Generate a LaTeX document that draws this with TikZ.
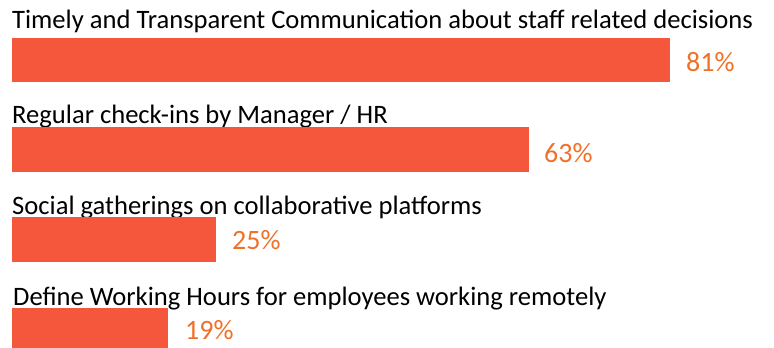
\documentclass[tikz,border=0pt]{standalone}
\usepackage{fontspec}
\setmainfont{Carlito}
\definecolor{barred}{RGB}{245,87,61}
\definecolor{pctorange}{RGB}{240,112,40}
\begin{document}
\begin{tikzpicture}[x=1pt,y=-1pt,
  bar/.style={fill=barred,draw=none,inner sep=0pt,anchor=north west,minimum height=44pt},
  lbl/.style={anchor=base west,inner sep=0pt,font=\fontsize{26.6}{30}\selectfont,text=black},
  pct/.style={anchor=base west,inner sep=0pt,font=\fontsize{28}{32}\selectfont,text=pctorange}]
\useasboundingbox (0,0) rectangle (774,348);
\node[lbl] (l1) at (12,28) {Timely and Transparent Communication about staff related decisions};
\node[bar,minimum width=658pt] (b1) at (12,38) {};
\node[pct] (p1) at (686,71) {81\%};
\node[lbl] (l2) at (12,123) {Regular check-ins by Manager / HR};
\node[bar,minimum width=517pt,minimum height=45pt] (b2) at (12,127) {};
\node[pct] (p2) at (544,162) {63\%};
\node[lbl] (l3) at (12,214) {Social gatherings on collaborative platforms};
\node[bar,minimum width=204pt,minimum height=45pt] (b3) at (12,217) {};
\node[pct] (p3) at (232,249) {25\%};
\node[lbl] (l4) at (13,305) {Define Working Hours for employees working remotely};
\node[bar,minimum width=156pt,minimum height=40pt] (b4) at (12,308) {};
\node[pct] (p4) at (185,339) {19\%};
\end{tikzpicture}
\end{document}
